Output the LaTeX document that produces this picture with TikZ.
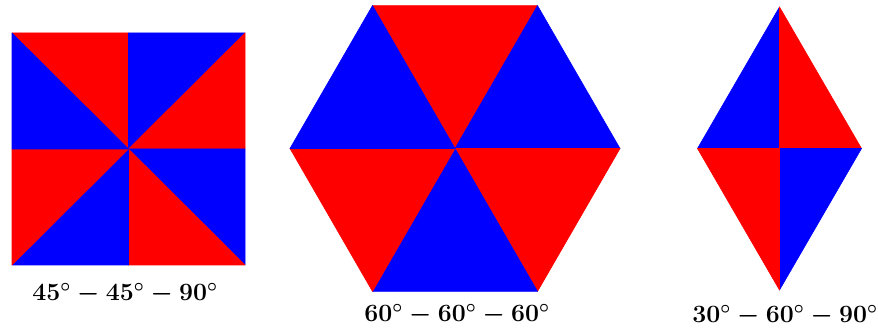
\documentclass[tikz,border=0pt]{standalone}
\usepackage{amsmath,amssymb}

\tikzset{
  redpiece/.style={draw=red,fill=red,line width=0.6pt,line join=round},
  bluepiece/.style={draw=blue,fill=blue,line width=0.6pt,line join=round},
  anglelabel/.style={anchor=base,inner sep=0.75pt,font=\fontsize{27}{32}\selectfont\boldmath}
}

\begin{document}
\begin{tikzpicture}[x=1pt,y=1pt,yscale=-1,xscale=1]
\useasboundingbox (0,0) rectangle (878,336);

%Shape: Square [id:sq45] centre (128.5,149)
\coordinate (sqC)  at (128.5,149);
\coordinate (sqTL) at (12,33);
\coordinate (sqTM) at (128.5,33);
\coordinate (sqTR) at (245,33);
\coordinate (sqRM) at (245,149);
\coordinate (sqBR) at (245,265);
\coordinate (sqBM) at (128.5,265);
\coordinate (sqBL) at (12,265);
\coordinate (sqLM) at (12,149);
\draw [redpiece]  (sqTL) -- (sqTM) -- (sqC) -- cycle ;
\draw [bluepiece] (sqTM) -- (sqTR) -- (sqC) -- cycle ;
\draw [redpiece]  (sqTR) -- (sqRM) -- (sqC) -- cycle ;
\draw [bluepiece] (sqRM) -- (sqBR) -- (sqC) -- cycle ;
\draw [redpiece]  (sqBR) -- (sqBM) -- (sqC) -- cycle ;
\draw [bluepiece] (sqBM) -- (sqBL) -- (sqC) -- cycle ;
\draw [redpiece]  (sqBL) -- (sqLM) -- (sqC) -- cycle ;
\draw [bluepiece] (sqLM) -- (sqTL) -- (sqC) -- cycle ;

%Shape: Hexagon [id:hex60] centre (455,148.5)
\coordinate (hxC)  at (455,148.5);
\coordinate (hxTL) at (372.5,5.6);
\coordinate (hxTR) at (537.5,5.6);
\coordinate (hxR)  at (620,148.5);
\coordinate (hxBR) at (537.5,291.4);
\coordinate (hxBL) at (372.5,291.4);
\coordinate (hxL)  at (290,148.5);
\draw [redpiece]  (hxTL) -- (hxTR) -- (hxC) -- cycle ;
\draw [bluepiece] (hxTR) -- (hxR) -- (hxC) -- cycle ;
\draw [redpiece]  (hxR) -- (hxBR) -- (hxC) -- cycle ;
\draw [bluepiece] (hxBR) -- (hxBL) -- (hxC) -- cycle ;
\draw [redpiece]  (hxBL) -- (hxL) -- (hxC) -- cycle ;
\draw [bluepiece] (hxL) -- (hxTL) -- (hxC) -- cycle ;

%Shape: Rhombus [id:rh3060] centre (779.5,148.5)
\coordinate (rhC) at (779.5,148.5);
\coordinate (rhT) at (779.5,7);
\coordinate (rhR) at (861.5,148.5);
\coordinate (rhB) at (779.5,290);
\coordinate (rhL) at (697.5,148.5);
\draw [bluepiece] (rhT) -- (rhL) -- (rhC) -- cycle ;
\draw [redpiece]  (rhT) -- (rhR) -- (rhC) -- cycle ;
\draw [bluepiece] (rhR) -- (rhB) -- (rhC) -- cycle ;
\draw [redpiece]  (rhB) -- (rhL) -- (rhC) -- cycle ;

% Text Node
\node (lbSquare) [anglelabel] at (125,301) {$45^\circ-45^\circ-90^\circ$};
% Text Node
\node (lbHexagon) [anglelabel] at (457,322) {$60^\circ-60^\circ-60^\circ$};
% Text Node
\node (lbRhombus) [anglelabel] at (785,323) {$30^\circ-60^\circ-90^\circ$};
\end{tikzpicture}
\end{document}
